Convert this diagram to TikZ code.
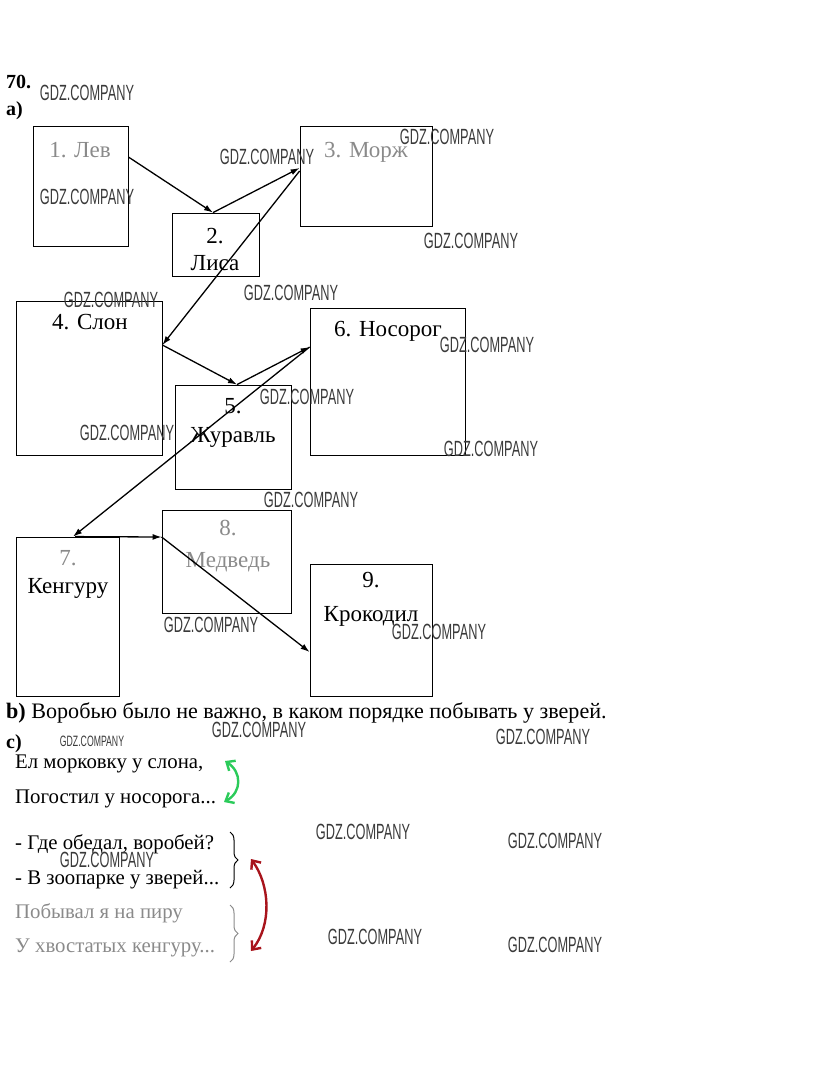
\documentclass[tikz,border=0pt]{standalone}
\usepackage{fontspec}
\setmainfont{Liberation Serif}
\newfontfamily\wmfont[FakeStretch=0.58]{Liberation Sans}
\usetikzlibrary{arrows.meta,decorations.pathreplacing}
\definecolor{wmgray}{HTML}{3A3A3A}
\definecolor{pale}{HTML}{8A8A8A}
\definecolor{grn}{HTML}{2BCB5A}
\definecolor{dred}{HTML}{A8141C}
\tikzset{
  box/.style={draw, line width=0.8pt, inner sep=0pt},
  lbl/.style={anchor=base, inner sep=0pt, font=\fontsize{23}{25}\selectfont},
  txt/.style={anchor=base west, inner sep=0pt, font=\fontsize{20.8}{23}\selectfont},
  wm/.style={inner sep=0pt, text=wmgray, font=\wmfont\fontsize{22}{24}\selectfont},
  wms/.style={inner sep=0pt, text=wmgray, font=\wmfont\fontsize{15}{16}\selectfont},
  arr/.style={line width=1.3pt, -{Latex[length=9pt,width=6pt]}},
  barb/.style={line width=2.4pt, {Straight Barb[length=7pt,width=12pt]}-{Straight Barb[length=7pt,width=12pt]}}
}
\begin{document}
\begin{tikzpicture}[x=1pt,y=-1pt]
\useasboundingbox (0,0) rectangle (815,1071);
% boxes
\node[box, minimum width=95pt, minimum height=120pt] (n1) at (80.5,186) {};
\node[box, minimum width=87pt, minimum height=63pt] (n2) at (215.5,244.5) {};
\node[box, minimum width=132pt, minimum height=100pt] (n3) at (366,176) {};
\node[box, minimum width=146pt, minimum height=154pt] (n4) at (89,378) {};
\node[box, minimum width=116pt, minimum height=104pt] (n5) at (233,437) {};
\node[box, minimum width=155pt, minimum height=147pt] (n6) at (387.5,381.5) {};
\node[box, minimum width=103pt, minimum height=159pt] (n7) at (67.5,616.5) {};
\node[box, minimum width=129pt, minimum height=103pt] (n8) at (226.5,561.5) {};
\node[box, minimum width=122pt, minimum height=132pt] (n9) at (371,630) {};
% labels
\node[lbl, text=pale] (t1) at (80,157) {1. Лев};
\node[lbl] (t2a) at (215,243) {2.};
\node[lbl] (t2b) at (215,270) {Лиса};
\node[lbl, text=pale] (t3) at (366,157) {3. Морж};
\node[lbl] (t4) at (90,329) {4. Слон};
\node[lbl] (t5a) at (233,413) {5.};
\node[lbl] (t5b) at (233,442) {Журавль};
\node[lbl] (t6) at (388,336) {6. Носорог};
\node[lbl, text=pale] (t7a) at (68,565) {7.};
\node[lbl] (t7b) at (68,593) {Кенгуру};
\node[lbl, text=pale] (t8a) at (228,535) {8.};
\node[lbl, text=pale] (t8b) at (228,567) {Медведь};
\node[lbl] (t9a) at (371,587) {9.};
\node[lbl] (t9b) at (371,621) {Крокодил};
% arrows
\draw[arr] (n1.east |- 0,157) -- (n2.north -| 213,0);
\draw[arr] (n2.north -| 213,0) -- (n3.west |- 0,168);
\draw[arr] (n3.west |- 0,171) -- (n4.east |- 0,345);
\draw[arr] (n4.east |- 0,345) -- (n5.north -| 237,0);
\draw[arr] (n5.north -| 237,0) -- (n6.west |- 0,347);
\draw[arr] (n6.west |- 0,347) -- (n7.north -| 73,0);
\draw[arr] (n7.north -| 75,0) -- (n8.west |- 0,537);
\draw[arr] (n8.west |- 0,537) -- (n9.west |- 0,652);
% headings
\node[anchor=base west, inner sep=0pt, font=\bfseries\fontsize{20}{22}\selectfont] (h70) at (6,88) {70.};
\node[anchor=base west, inner sep=0pt, font=\bfseries\fontsize{20}{22}\selectfont] (ha) at (6,115) {a)};
\node[anchor=base west, inner sep=0pt, font=\fontsize{22.1}{24}\selectfont] (hb) at (6,718) {\textbf{b)} Воробью было не важно, в каком порядке побывать у зверей.};
\node[anchor=base west, inner sep=0pt, font=\bfseries\fontsize{20}{22}\selectfont] (hc) at (6,748) {c)};
% poem lines
\node[txt] (p1) at (15,768) {Ел морковку у слона,};
\node[txt] (p2) at (15,803) {Погостил у носорога...};
\node[txt] (p3) at (15,849) {- Где обедал, воробей?};
\node[txt] (p4) at (15,884) {- В зоопарке у зверей...};
\node[txt, text=pale] (p5) at (15,918) {Побывал я на пиру};
\node[txt, text=pale] (p6) at (15,952) {У хвостатых кенгуру...};
% braces
\coordinate (b1s) at (230,832);
\coordinate (b1e) at (230,888);
\coordinate (b2s) at (230,905);
\coordinate (b2e) at (230,962);
\draw[line width=1pt, decorate, decoration={brace, amplitude=8pt}] (b1s) -- (b1e);
\draw[line width=1pt, pale, decorate, decoration={brace, amplitude=8pt}] (b2s) -- (b2e);
% coloured arrows
\coordinate (g1) at (225,761);
\coordinate (g2) at (224,802);
\draw[barb, grn] (g1) .. controls (242,772) and (242,792) .. (g2);
\coordinate (r1) at (251,859);
\coordinate (r2) at (251,951);
\draw[barb, dred] (r1) .. controls (270,885) and (272,925) .. (r2);
% watermarks
\node[wm] (w1) at (87,93) {GDZ.COMPANY};
\node[wm] (w2) at (87,197) {GDZ.COMPANY};
\node[wm] (w3) at (267,157) {GDZ.COMPANY};
\node[wm] (w4) at (447,137) {GDZ.COMPANY};
\node[wm] (w5) at (471,241) {GDZ.COMPANY};
\node[wm] (w6) at (291,293) {GDZ.COMPANY};
\node[wm] (w7) at (111,300) {GDZ.COMPANY};
\node[wm] (w8) at (487,345) {GDZ.COMPANY};
\node[wm] (w9) at (307,397) {GDZ.COMPANY};
\node[wm] (w10) at (127,433) {GDZ.COMPANY};
\node[wm] (w11) at (491,449) {GDZ.COMPANY};
\node[wm] (w12) at (311,500) {GDZ.COMPANY};
\node[wm] (w13) at (211,625) {GDZ.COMPANY};
\node[wm] (w14) at (439,632) {GDZ.COMPANY};
\node[wm] (w15) at (259,730) {GDZ.COMPANY};
\node[wm] (w16) at (543,737) {GDZ.COMPANY};
\node[wms] (w17) at (92,741) {GDZ.COMPANY};
\node[wm] (w18) at (363,832) {GDZ.COMPANY};
\node[wm] (w19) at (555,841) {GDZ.COMPANY};
\node[wm] (w20) at (107,860) {GDZ.COMPANY};
\node[wm] (w21) at (375,937) {GDZ.COMPANY};
\node[wm] (w22) at (555,945) {GDZ.COMPANY};
\end{tikzpicture}
\end{document}
